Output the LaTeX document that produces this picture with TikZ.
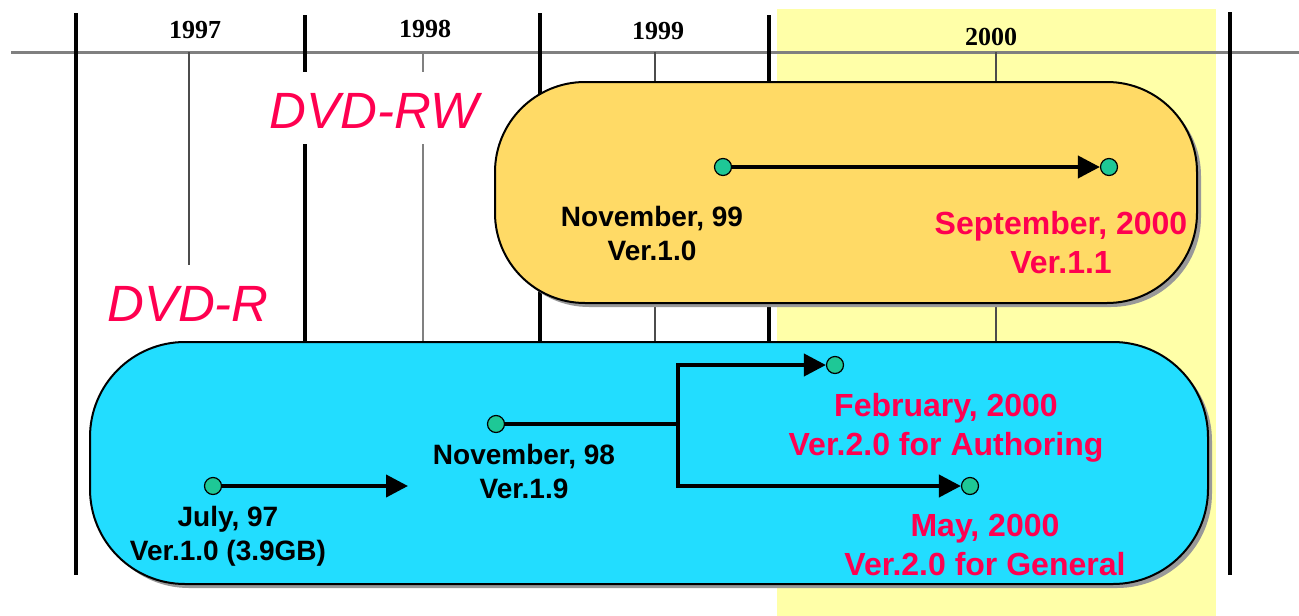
\documentclass[tikz,border=0pt]{standalone}
\usepackage{fontspec}
\setmainfont{Liberation Sans}
\newfontfamily\yearfont{Liberation Serif}
\usetikzlibrary{arrows.meta,shadows}
\definecolor{hl}{RGB}{255,255,168}
\definecolor{rwfill}{RGB}{255,218,102}
\definecolor{rfill}{RGB}{34,221,255}
\definecolor{dotc}{RGB}{30,200,150}
\definecolor{redt}{RGB}{255,0,80}
\definecolor{axisc}{RGB}{128,128,128}
\begin{document}
\begin{tikzpicture}[x=1pt,y=-1pt,
  thickline/.style={line width=4pt,black},
  thinline/.style={line width=2.5pt,black!70},
  pill/.style={draw=black,line width=2pt,inner sep=0pt,
    drop shadow={shadow xshift=4pt,shadow yshift=-4pt,fill=black!40,opacity=1}},
  dot/.style={circle,draw=black,line width=1.2pt,fill=dotc,minimum size=17pt,inner sep=0pt},
  conn/.style={line width=4pt,black},
  arr/.style={conn,-{Triangle[length=22pt,width=22pt]}},
  blk/.style={font=\fontsize{28}{34}\selectfont\bfseries,align=center,anchor=base,inner sep=0pt,text=black},
  redlbl/.style={font=\fontsize{32}{39}\selectfont\bfseries,align=center,anchor=base,inner sep=0pt,text=redt},
  yearlbl/.style={font=\yearfont\fontsize{26}{30}\selectfont\bfseries,anchor=base,inner sep=0pt},
  biglbl/.style={font=\fontsize{51}{56}\selectfont\itshape,anchor=base,inner sep=0pt,text=redt}
]
\useasboundingbox (0,0) rectangle (1299,616);
\fill[white] (0,0) rectangle (1299,616);
% highlight of year 2000
\fill[hl] (777,9) rectangle (1216,616);
% axis
\draw[line width=3pt,axisc] (11,52) -- (1299,52);
% year dividers
\draw[thickline] (76,13) -- (76,575);
\draw[thickline] (305,15) -- (305,72);
\draw[thickline] (305,144) -- (305,342);
\draw[thickline] (540,13) -- (540,342);
\draw[thickline] (769,15) -- (769,342);
\draw[thickline] (1230,12) -- (1230,575);
% mid-year ticks
\draw[thinline] (189,52) -- (189,265);
\draw[thinline,black!50] (423,52) -- (423,72);
\draw[thinline,black!50] (423,144) -- (423,342);
\draw[thinline] (655,52) -- (655,342);
\draw[thinline] (996,52) -- (996,342);
% year labels
\node[yearlbl] (y97) at (195,38) {1997};
\node[yearlbl] (y98) at (425,37) {1998};
\node[yearlbl] (y99) at (658,39) {1999};
\node[yearlbl] (y00) at (991,45) {2000};
% boxes
\node[pill,fill=rwfill,rounded corners=90pt,minimum width=702pt,minimum height=221pt] (rwbox) at (846,192.5) {};
\node[pill,fill=rfill,rounded corners=95pt,minimum width=1118pt,minimum height=242pt] (rbox) at (649,463) {};
% titles
\node[biglbl] (rwt) at (374,128) {DVD-RW};
\node[biglbl] (rt) at (188,321) {DVD-R};
% dots
\node[dot] (n99) at (723,167) {};
\node[dot] (s00) at (1109,167) {};
\node[dot] (j97) at (213,486) {};
\node[dot] (n98) at (496,424) {};
\node[dot] (f00) at (835,365) {};
\node[dot] (m00) at (970,486) {};
% connectors
\draw[arr] (n99) -- (s00);
\coordinate (jend) at (408,486);
\draw[arr] (j97) -- (jend);
\coordinate (split) at (678,424);
\draw[conn] (n98) -- (split);
\draw[arr] (split) |- (f00);
\draw[arr] (split) |- (m00);
% labels (anchor = baseline of the last line)
\node[blk] (ln99) at (652,260) {November, 99\\Ver.1.0};
\node[redlbl] (ls00) at (1061,273) {September, 2000\\Ver.1.1};
\node[blk] (lj97) at (228,560) {July, 97\\Ver.1.0 (3.9GB)};
\node[blk] (ln98) at (524,498) {November, 98\\Ver.1.9};
\node[redlbl] (lf00) at (946,455) {February, 2000\\Ver.2.0 for Authoring};
\node[redlbl] (lm00) at (985,575) {May, 2000\\Ver.2.0 for General};
\end{tikzpicture}
\end{document}
